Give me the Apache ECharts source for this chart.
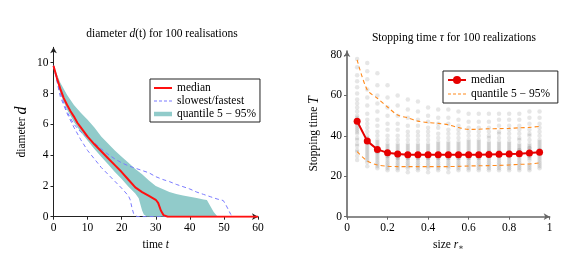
<!DOCTYPE html>
<html>
<head>
<meta charset="utf-8">
<script src="https://cdn.jsdelivr.net/npm/echarts@6/dist/echarts.min.js"></script>
<style>html,body{margin:0;padding:0;background:#fff}#c{width:584px;height:265px}</style>
</head>
<body>
<div id="c"></div>
<script>
// ---------- Left chart data: diameter d(t) ----------
const medianD = [[0,9.8],[1,9.0],[2,8.3],[3,7.7],[4,7.25],[5,6.85],[6,6.5],[7,6.1],[8,5.8],[10,5.2],[12,4.7],[14,4.25],[16,3.8],[18,3.35],[20,2.9],[22,2.4],[24,1.9],[26,1.6],[28,1.35],[30,1.1],[30.7,0.9],[31.5,0.4],[32.3,0.1],[33.5,0],[60,0]];
const bandUpper = [[0,9.8],[2,8.7],[4,7.9],[6,7.25],[8,6.75],[10,6.3],[12,5.8],[14,5.2],[16,4.75],[18,4.3],[20,3.9],[22,3.5],[24,3.1],[26,2.75],[28,2.35],[30,2.0],[32,1.8],[34,1.6],[36,1.48],[38,1.38],[40,1.3],[42,1.22],[44,1.12],[45,1.08],[46,0.7],[47,0.3],[48,0.05],[48.5,0]];
const bandLower = [[0,9.8],[2,8.0],[4,6.95],[6,6.15],[8,5.5],[10,4.95],[12,4.4],[14,3.9],[16,3.4],[18,2.9],[20,2.45],[22,1.95],[24,1.5],[25,1.2],[25.5,0.8],[26,0.4],[26.5,0.15],[27.5,0],[48.5,0]];
const slowest = [[0,9.8],[2,8.0],[4,6.8],[6,6.0],[8,5.5],[10,5.15],[12,4.8],[14,4.4],[16,4.05],[18,3.75],[20,3.5],[22,3.3],[24,3.15],[26,3.0],[28,2.85],[30,2.6],[32,2.42],[34,2.28],[36,2.1],[38,1.95],[40,1.8],[42,1.6],[44,1.45],[46,1.3],[48,1.15],[49.8,1.05],[50.5,0.8],[51.2,0.5],[52,0.15],[52.7,0],[53,0]];
const fastest = [[0,9.8],[2,7.8],[4,6.7],[6,5.8],[8,5.0],[10,4.3],[12,3.75],[14,3.2],[16,2.75],[18,2.3],[20,1.85],[22,1.35],[22.5,1.1],[23,0.6],[23.5,0.2],[24.5,0],[33,0]];

// ---------- Right chart data: stopping time ----------
const rValues = [0.05,0.10,0.15,0.20,0.25,0.30,0.35,0.40,0.45,0.50,0.55,0.60,0.65,0.70,0.75,0.80,0.85,0.90,0.95];
const medianT = [47.2,37.4,33.3,31.6,31.0,30.7,30.6,30.6,30.6,30.6,30.6,30.7,30.7,30.8,30.9,31.0,31.2,31.5,31.9];
const q95T = [77.6,62.7,58.6,54.3,50.3,48.9,47.3,46.6,46.2,45.5,44.1,43.2,43.3,43.5,43.6,43.7,44.0,44.2,44.7];
const q05T = [32.2,27.6,25.6,25.0,24.8,24.8,24.8,24.8,24.8,24.8,24.9,25.1,25.2,25.3,25.4,25.6,25.9,26.1,26.6];
const realizations = [
 [28,30,32,33,35,36,38,39,41,42,43,44,45,46,47,48,49,50,52,54,56,58,61,64,67,70,74,78,83],
 [25,27,28,29,30,31,32,33,34,35,36,37,37,38,39,40,42,44,46,48,51,55,59,63,68,72,76],
 [24,25,26,27,28,29,30,31,32,32,33,33,34,35,36,37,38,40,42,45,48,52,56,60,65,71],
 [23,24,25,26,27,28,29,30,30,31,31,32,32,33,34,35,36,38,40,43,46,50,54,59,65],
 [23,24,25,26,27,28,29,29,30,30,31,31,32,33,34,35,36,38,40,43,46,50,55,60],
 [22,24,25,26,27,28,29,29,30,30,31,31,32,33,34,35,36,38,40,42,45,49,53,58],
 [23,24,25,26,27,28,29,29,30,30,31,31,32,33,34,35,36,38,40,42,45,48,52,57],
 [22,24,25,26,27,28,29,29,30,30,31,31,32,33,34,35,36,38,40,42,44,47,50,54],
 [23,24,25,26,27,28,29,29,30,30,31,31,32,33,34,35,36,37,39,41,44,46,49,53],
 [22,24,25,26,27,28,29,29,30,30,31,31,32,33,34,35,36,37,39,41,43,46,49,53],
 [23,24,25,26,27,28,29,29,30,30,31,31,32,33,34,35,36,37,39,41,43,45,48,52],
 [23,24,25,26,27,28,29,29,30,30,31,31,32,33,34,35,36,37,38,40,42,44,47,51],
 [23,24,25,26,27,28,29,29,30,30,31,31,32,33,34,35,36,37,38,40,42,44,47,51],
 [23,24,25,26,27,28,29,30,30,31,31,32,32,33,34,35,36,37,39,40,42,44,47,51],
 [23,24,25,26,27,28,29,30,30,31,31,32,32,33,34,35,36,37,39,41,42,45,48,51],
 [23,24,25,26,27,28,29,30,30,31,31,32,32,33,34,35,36,37,39,41,43,45,48,51],
 [23,24,25,26,27,28,29,30,31,31,32,32,33,33,34,35,36,38,39,41,43,45,48,51],
 [23,24,25,26,28,29,30,30,31,31,32,32,33,34,34,35,36,38,40,41,43,46,49,52],
 [24,25,26,27,28,29,30,31,31,32,32,33,33,34,35,36,37,38,40,42,44,46,49,52]
];

const FONT = '"Liberation Serif", "DejaVu Serif", serif';
const FS = 11.5;
const DASH_ICON = 'path://M0,0H3V1H0Z M5,0H8V1H5Z M10,0H13V1H10Z M15,0H18V1H15Z';
const scatterData = [];
realizations.forEach((col, i) => col.forEach(v => scatterData.push([rValues[i], v])));

function axisCommon(color, width, hideMax) {
  return {
    axisLine: {show: true, onZero: false, symbol: ['none', 'arrow'], symbolSize: [5, 6], lineStyle: {color: color, width: width}},
    axisTick: {show: true, length: 3, lineStyle: {color: color}},
    axisLabel: {color: '#000', fontFamily: FONT, fontSize: FS, margin: 5, showMaxLabel: !hideMax},
    splitLine: {show: false}
  };
}

const chart = echarts.init(document.getElementById('c'), null, {renderer: 'canvas'});
const option = {
  animation: false,
  title: [
    {text: 'diameter {i|d}(t) for 100 realisations', left: 157, top: 23, textAlign: 'center',
     textStyle: {fontFamily: FONT, fontSize: FS, fontWeight: 'normal', color: '#000',
       rich: {i: {fontFamily: FONT, fontSize: FS, fontStyle: 'italic'}}}},
    {text: 'Stopping time {i|τ} for 100 realizations', left: 449, top: 27, textAlign: 'center',
     textStyle: {fontFamily: FONT, fontSize: FS, fontWeight: 'normal', color: '#000',
       rich: {i: {fontFamily: FONT, fontSize: FS, fontStyle: 'italic'}}}}
  ],
  grid: [
    {left: 53.5, right: 326, top: 47.3, bottom: 48.3},
    {left: 347, right: 34.3, top: 51, bottom: 48.3}
  ],
  xAxis: [
    Object.assign(axisCommon('#222', 1, false), {gridIndex: 0, type: 'value', min: 0, max: 60, interval: 10,
      name: 'time {i|t}', nameLocation: 'middle', nameGap: 19,
      nameTextStyle: {color: '#000', fontFamily: FONT, fontSize: FS, rich: {i: {fontStyle: 'italic', fontFamily: FONT, fontSize: FS}}}}),
    Object.assign(axisCommon('#666', 1.6, false), {gridIndex: 1, type: 'value', min: 0, max: 1, interval: 0.2,
      name: 'size {i|r}{s|∗}', nameLocation: 'middle', nameGap: 19,
      nameTextStyle: {color: '#000', fontFamily: FONT, fontSize: FS, rich: {i: {fontStyle: 'italic', fontFamily: FONT, fontSize: FS}, s: {fontFamily: FONT, fontSize: 8, padding: [6, 0, 0, 0]}}}})
  ],
  yAxis: [
    Object.assign(axisCommon('#222', 1, true), {gridIndex: 0, type: 'value', min: 0, max: 11, interval: 2,
      name: 'diameter {i|d}', nameLocation: 'middle', nameGap: 24, nameRotate: 90,
      nameTextStyle: {color: '#000', fontFamily: FONT, fontSize: FS, rich: {i: {fontStyle: 'italic', fontFamily: FONT, fontSize: 16}}}}),
    Object.assign(axisCommon('#666', 1.6, true), {gridIndex: 1, type: 'value', min: 0, max: 82, interval: 20,
      name: 'Stopping time {i|T}', nameLocation: 'middle', nameGap: 26, nameRotate: 90,
      nameTextStyle: {color: '#000', fontFamily: FONT, fontSize: FS, rich: {i: {fontStyle: 'italic', fontFamily: FONT, fontSize: 14}}}})
  ],
  legend: [
    {left: 150, top: 79, orient: 'vertical', backgroundColor: '#fff', borderColor: '#222', borderWidth: 1, borderRadius: 0,
     padding: [3, 4, 2, 4], itemGap: 1, itemWidth: 18, itemHeight: 10, symbolKeepAspect: true,
     textStyle: {fontFamily: FONT, fontSize: FS, color: '#000', lineHeight: 12},
     data: [{name: 'median', icon: 'path://M0,0H18V2H0Z'},
            {name: 'slowest/fastest', icon: DASH_ICON},
            {name: 'quantile 5 − 95%', icon: 'path://M0,0H18V4.5H0Z'}]},
    {left: 443, top: 71, orient: 'vertical', backgroundColor: '#fff', borderColor: '#222', borderWidth: 1, borderRadius: 0,
     padding: [3, 5, 3, 4], itemGap: 2, itemWidth: 18, itemHeight: 10, symbolKeepAspect: true,
     textStyle: {fontFamily: FONT, fontSize: FS, color: '#000', lineHeight: 12},
     data: [{name: 'median '}, {name: 'quantile 5 − 95% ', icon: DASH_ICON}]}
  ],
  series: [
    {type: 'custom', name: 'quantile 5 − 95%', xAxisIndex: 0, yAxisIndex: 0, data: bandUpper,
     itemStyle: {color: '#91cbca'}, silent: true, clip: true,
     renderItem: function (params, api) {
       if (params.dataIndex !== 0) return null;
       const pts = bandUpper.map(p => api.coord(p)).concat(bandLower.slice().reverse().map(p => api.coord(p)));
       return {type: 'polygon', shape: {points: pts}, style: {fill: '#91cbca'}};
     }},
    {type: 'line', name: 'slowest/fastest', xAxisIndex: 0, yAxisIndex: 0, data: slowest, showSymbol: false, symbol: 'none',
     lineStyle: {color: '#7a7aff', width: 1, type: [4, 3]}, itemStyle: {color: '#7a7aff'}},
    {type: 'line', name: 'slowest/fastest', xAxisIndex: 0, yAxisIndex: 0, data: fastest, showSymbol: false, symbol: 'none',
     lineStyle: {color: '#7a7aff', width: 1, type: [4, 3]}, itemStyle: {color: '#7a7aff'}},
    {type: 'line', name: 'median', xAxisIndex: 0, yAxisIndex: 0, data: medianD, showSymbol: false, symbol: 'none',
     lineStyle: {color: '#ff1010', width: 2}, itemStyle: {color: '#ff1010'}},

    {type: 'scatter', name: 'realizations', xAxisIndex: 1, yAxisIndex: 1, data: scatterData, symbolSize: 4.5,
     itemStyle: {color: 'rgba(40,40,40,0.15)'}, silent: true},
    {type: 'line', name: 'quantile 5 − 95% ', xAxisIndex: 1, yAxisIndex: 1, data: rValues.map((r, i) => [r, q95T[i]]),
     showSymbol: false, symbol: 'none', smooth: 0.3, lineStyle: {color: '#ff8a1c', width: 1.1, type: [4, 3]}, itemStyle: {color: '#ff8a1c'}},
    {type: 'line', name: 'quantile 5 − 95% ', xAxisIndex: 1, yAxisIndex: 1, data: rValues.map((r, i) => [r, q05T[i]]),
     showSymbol: false, symbol: 'none', smooth: 0.3, lineStyle: {color: '#ff8a1c', width: 1.1, type: [4, 3]}, itemStyle: {color: '#ff8a1c'}},
    {type: 'line', name: 'median ', xAxisIndex: 1, yAxisIndex: 1, data: rValues.map((r, i) => [r, medianT[i]]),
     symbol: 'circle', symbolSize: 7, showSymbol: true,
     lineStyle: {color: '#e60000', width: 2}, itemStyle: {color: '#e60000'}}
  ]
};
chart.setOption(option);
</script>
</body>
</html>
